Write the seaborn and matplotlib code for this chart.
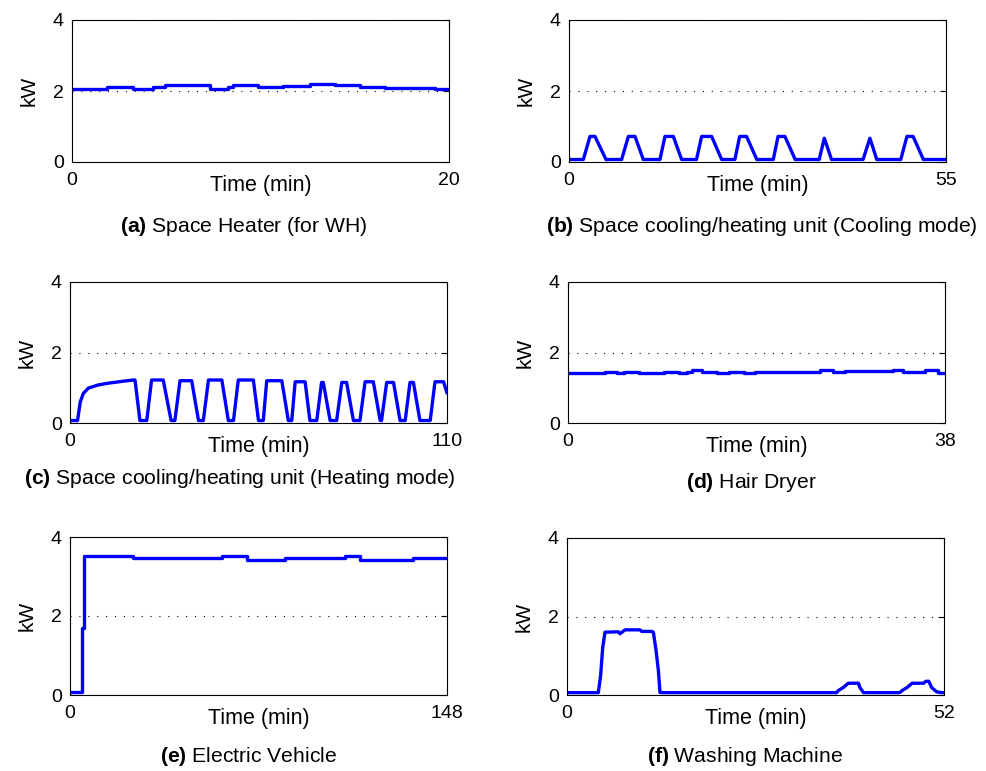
import matplotlib.pyplot as plt
import seaborn as sns

# -------------------------
# Data
# -------------------------
# (a) Space heater, step profile (segment start times + end)
t_a = [0, 1.84, 3.25, 4.31, 4.93, 7.32, 8.29, 8.56, 9.88, 11.2, 12.6, 13.95, 15.3, 16.6, 19.26, 20]
p_a = [2.05, 2.11, 2.05, 2.11, 2.17, 2.06, 2.11, 2.17, 2.11, 2.15, 2.21, 2.17, 2.11, 2.08, 2.05, 2.05]

# (b) Space cooling/heating unit, cooling mode
t_b = [0, 2.09, 3.06, 3.79, 5.4, 7.68, 8.66, 9.63, 10.84, 13.27, 14.0, 15.22, 16.43,
       18.6, 19.35, 20.81, 22.27, 24.2, 24.9, 25.9, 27.4, 29.8, 30.5, 31.5, 33.0,
       36.5, 37.25, 38.3, 42.9, 43.9, 44.9, 48.4, 49.3, 50.2, 51.7, 55]
p_b = [0.07, 0.07, 0.72, 0.72, 0.07, 0.07, 0.72, 0.72, 0.07, 0.07, 0.72, 0.72, 0.07,
       0.07, 0.72, 0.72, 0.07, 0.07, 0.72, 0.72, 0.07, 0.07, 0.72, 0.72, 0.07,
       0.07, 0.67, 0.07, 0.07, 0.67, 0.07, 0.07, 0.72, 0.72, 0.07, 0.07]

# (c) Space cooling/heating unit, heating mode
t_c = [0, 2.2, 3.0, 3.9, 5.35, 8.27, 11.2, 15.1, 18.5, 18.97, 20.4, 22.4, 23.8, 27.2,
       29.5, 30.6, 32.1, 35.5, 37.5, 38.9, 40.4, 44.3, 46.2, 47.7, 49.1, 53.5,
       55.0, 56.4, 57.4, 61.8, 63.7, 64.7, 65.7, 68.6, 70.0, 72.0, 73.4, 73.9,
       75.9, 77.8, 79.3, 80.7, 82.7, 84.6, 86.1, 88.5, 90.5, 90.9, 92.4, 94.4,
       96.3, 97.8, 99.2, 100.2, 102.1, 105.1, 106.5, 109.0, 110]
p_c = [0.07, 0.07, 0.6, 0.84, 0.99, 1.08, 1.13, 1.18, 1.22, 1.22, 0.07, 0.07, 1.22, 1.22,
       0.07, 0.07, 1.2, 1.2, 0.07, 0.07, 1.22, 1.22, 0.07, 0.07, 1.22, 1.22,
       0.07, 0.07, 1.2, 1.2, 0.07, 0.07, 1.17, 1.17, 0.07, 0.07, 1.15, 1.15,
       0.07, 0.07, 1.15, 1.15, 0.07, 0.07, 1.17, 1.17, 0.07, 0.07, 1.15, 1.15,
       0.07, 0.07, 1.15, 1.15, 0.07, 0.07, 1.17, 1.17, 0.85]

# (d) Hair dryer, step profile
t_d = [0, 3.76, 4.93, 5.61, 7.12, 9.63, 11.14, 11.98, 12.49, 13.49, 15.0, 16.18,
       17.69, 18.87, 25.41, 26.75, 27.93, 32.8, 33.8, 35.99, 37.33, 38]
p_d = [1.42, 1.45, 1.41, 1.45, 1.42, 1.45, 1.41, 1.45, 1.49, 1.45, 1.41, 1.45,
       1.41, 1.45, 1.49, 1.45, 1.48, 1.49, 1.45, 1.49, 1.42, 1.42]

# (e) Electric vehicle, step profile
t_e = [0, 4.6, 4.9, 5.3, 5.6, 24.9, 59.5, 69.3, 84.4, 108, 113.9, 134.8, 148]
p_e = [0.08, 0.9, 1.7, 2.6, 3.52, 3.47, 3.52, 3.43, 3.47, 3.52, 3.43, 3.47, 3.47]

# (f) Washing machine
t_f = [0, 4.32, 4.64, 4.92, 5.24, 7.08, 7.31, 8.0, 10.07, 10.3, 11.68, 11.91, 12.28,
       12.6, 12.83, 37.2, 37.4, 38.1, 38.8, 40.2, 40.4, 40.9, 45.9, 46.2, 46.9,
       47.6, 49.2, 49.5, 49.9, 50.3, 51.0, 51.7, 52]
p_f = [0.06, 0.06, 0.5, 1.2, 1.6, 1.61, 1.56, 1.66, 1.66, 1.62, 1.62, 1.6, 1.14,
       0.63, 0.06, 0.06, 0.11, 0.19, 0.30, 0.30, 0.19, 0.06, 0.06, 0.11, 0.19,
       0.30, 0.30, 0.35, 0.35, 0.19, 0.08, 0.06, 0.06]

letters = ['(a)', '(b)', '(c)', '(d)', '(e)', '(f)']
captions = ['Space Heater (for WH)',
            'Space cooling/heating unit (Cooling mode)',
            'Space cooling/heating unit (Heating mode)',
            'Hair Dryer',
            'Electric Vehicle',
            'Washing Machine']
x_max = [20, 55, 110, 38, 148, 52]

# =========================
# Style
# =========================
sns.set_style('white')
plt.rcParams['font.family'] = ['Liberation Sans', 'DejaVu Sans']
plt.rcParams['mathtext.fontset'] = 'custom'
plt.rcParams['mathtext.rm'] = 'Liberation Sans'
plt.rcParams['mathtext.bf'] = 'Liberation Sans:bold'
plt.rcParams['text.color'] = 'black'
plt.rcParams['axes.labelcolor'] = 'black'

W, H = 987, 771
fig = plt.figure(figsize=(W / 100, H / 100), dpi=100)

# axes boxes in pixels: left, top, right, bottom
boxes = [(72, 20, 449, 162), (569, 20, 946, 162),
         (70, 282, 447, 423), (568, 282, 945, 423),
         (70, 537, 447, 695), (567, 538, 944, 695)]
cap_pos = [(244, 226), (762, 226), (240, 478), (751, 482), (249, 757), (745, 757)]

series = [(t_a, p_a, 'steps-post'), (t_b, p_b, 'default'), (t_c, p_c, 'default'),
          (t_d, p_d, 'steps-post'), (t_e, p_e, 'steps-post'), (t_f, p_f, 'default')]

for i, (t, p, ds) in enumerate(series):
    l, tp, r, b = boxes[i]
    ax = fig.add_axes([l / W, 1 - b / H, (r - l) / W, (b - tp) / H])
    sns.lineplot(x=t, y=p, ax=ax, color='#0000ff', lw=2.4,
                 estimator=None, sort=False, drawstyle=ds)
    ax.set_xlim(0, x_max[i])
    ax.set_ylim(0, 4)
    ax.set_xticks([0, x_max[i]])
    ax.set_yticks([0, 2, 4])
    ax.yaxis.grid(True, color='black', linestyle=(0, (1, 7)), lw=0.8)
    ax.tick_params(direction='in', length=4, width=0.8, top=True, right=True,
                   labelsize=14, colors='black')
    ax.tick_params(axis='x', pad=7)
    ax.tick_params(axis='y', pad=6)
    for s in ax.spines.values():
        s.set_visible(True)
        s.set_color('black')
        s.set_linewidth(0.8)
    ax.set_xlabel('Time (min)', fontsize=15.5)
    ax.set_ylabel('kW', fontsize=15)
    ax.xaxis.set_label_coords(0.5, -13 / (b - tp))
    ax.yaxis.set_label_coords(-33 / (r - l), 0.5)
    cx, cy = cap_pos[i]
    fig.text(cx / W, 1 - cy / H, r'$\mathbf{' + letters[i] + '}$ ' + captions[i],
             ha='center', va='center', fontsize=15.2)

plt.savefig('out.png', dpi=100)
